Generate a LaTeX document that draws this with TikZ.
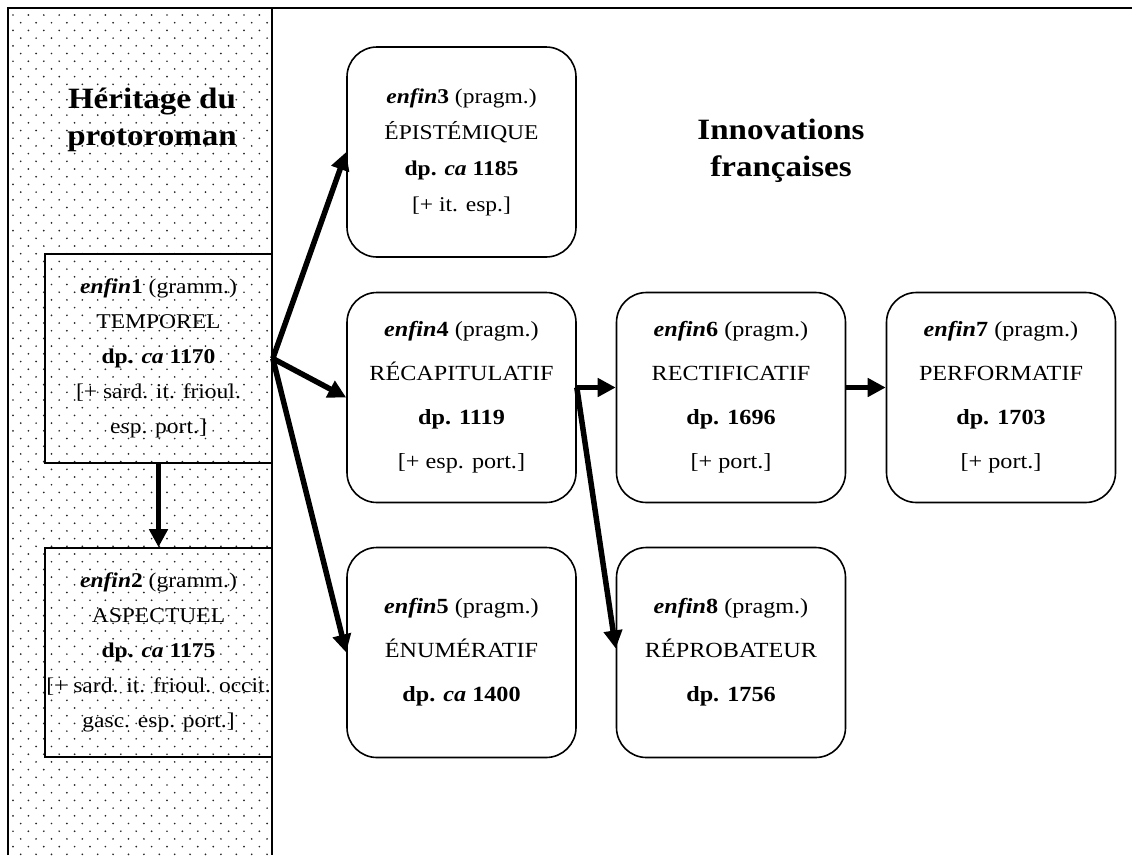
\documentclass[tikz,border=0pt]{standalone}
\usepackage{fontspec}
\setmainfont{Liberation Serif}[FakeStretch=1.12]
\usetikzlibrary{arrows.meta}
\begin{document}
\begin{tikzpicture}[x=1pt,y=-1pt,
  frame/.style={line width=2pt},
  sbox/.style={draw, line width=1.6pt, minimum width=227pt, minimum height=209pt, inner sep=0pt, align=center, font=\fontsize{21}{35}\selectfont},
  rbox/.style={draw, line width=1.6pt, rounded corners=30pt, minimum width=229pt, minimum height=210pt, inner sep=0pt, align=center, font=\fontsize{21.6}{44}\selectfont},
  tight/.style={font=\fontsize{21}{36}\selectfont},
  title/.style={align=center, inner sep=0pt, font=\fontsize{29.5}{37}\selectfont\bfseries},
  arr/.style={line width=5.5pt, -{Triangle[length=18pt,width=18pt]}},
  dotc/.style={fill=black!85}]
\useasboundingbox (0,0) rectangle (1132,855);
% dotted column
\foreach \j in {0,...,109}{
  \pgfmathsetmacro\yy{15+7.7*\j}
  \pgfmathsetmacro\xo{mod(\j,2)*7.7}
  \foreach \i in {0,...,16}{
    \fill[dotc] (13+\xo+15.4*\i,\yy) circle (0.95);
  }
}
% frame
\draw[frame] (8,855) -- (8,8) -- (1132,8);
\draw[frame] (272,8) -- (272,855);
% titles
\node[title] (t1) at (152,120) {Héritage du\\protoroman};
\node[title] (t2) at (781,151) {Innovations\\françaises};
% left boxes
\node[sbox] (e1) at (158.5,358.5) {\textbf{\textit{enfin}1} (gramm.)\\TEMPOREL\\\textbf{dp. \textit{ca} 1170}\\{[}+ sard. it. frioul.\\esp. port.{]}};
\node[sbox] (e2) at (158.5,652.5) {\textbf{\textit{enfin}2} (gramm.)\\ASPECTUEL\\\textbf{dp. \textit{ca} 1175}\\{[}+ sard. it. frioul. occit.\\gasc. esp. port.{]}};
% right boxes
\node[rbox,tight] (e3) at (461.5,152) {\textbf{\textit{enfin}3} (pragm.)\\ÉPISTÉMIQUE\\\textbf{dp. \textit{ca} 1185}\\{[}+ it. esp.{]}};
\node[rbox] (e4) at (461.5,397.5) {\textbf{\textit{enfin}4} (pragm.)\\RÉCAPITULATIF\\\textbf{dp. 1119}\\{[}+ esp. port.{]}};
\node[rbox] (e5) at (461.5,652.5) {\textbf{\textit{enfin}5} (pragm.)\\ÉNUMÉRATIF\\\textbf{dp. \textit{ca} 1400}};
\node[rbox] (e6) at (731,397.5) {\textbf{\textit{enfin}6} (pragm.)\\RECTIFICATIF\\\textbf{dp. 1696}\\{[}+ port.{]}};
\node[rbox] (e7) at (1001,397.5) {\textbf{\textit{enfin}7} (pragm.)\\PERFORMATIF\\\textbf{dp. 1703}\\{[}+ port.{]}};
\node[rbox] (e8) at (731,652.5) {\textbf{\textit{enfin}8} (pragm.)\\RÉPROBATEUR\\\textbf{dp. 1756}};
% connectors
\draw[arr] (e1.east) -- (e3.west);
\draw[arr] (e1.east) -- (e4.west);
\draw[arr] (e1.east) -- (e5.west);
\draw[arr, line width=5pt] (e1.south) -- (e2.north);
\coordinate (s4) at ([yshift=10pt]e4.east);
\coordinate (s6) at ([yshift=10pt]e6.east);
\draw[arr] (s4) -- (s4 -| e6.west);
\draw[arr] (s4) -- ([yshift=4pt]e8.west);
\draw[arr] (s6) -- (s6 -| e7.west);
\end{tikzpicture}
\end{document}
